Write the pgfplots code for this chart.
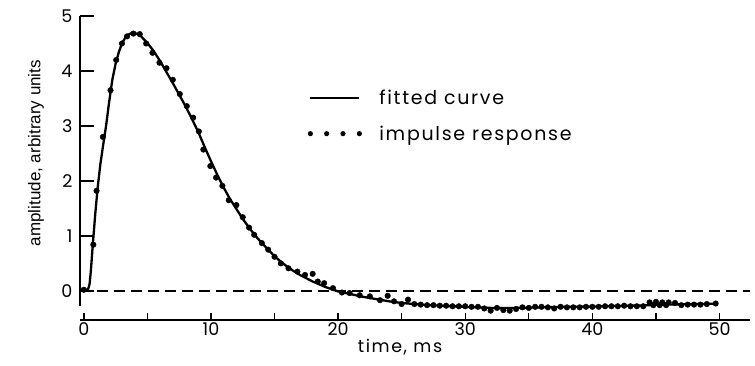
\documentclass[border=0pt]{standalone}
\usepackage{pgfplots}
\pgfplotsset{compat=1.18}
\usepackage{fontspec}
\setmainfont{Liberation Sans}
\newfontfamily\geo{Poppins}
\newfontfamily\geols[LetterSpace=9]{Poppins}

\pgfplotstableread{
t v
0 0
0.2 0.01
0.35 0.04
0.45 0.12
0.55 0.35
0.7 0.82
0.9 1.4
1.1 1.9
1.3 2.3
1.5 2.62
1.75 3.0
2.0 3.45
2.25 3.85
2.5 4.13
2.75 4.34
3.0 4.5
3.25 4.6
3.5 4.66
3.75 4.69
4.0 4.69
4.25 4.67
4.5 4.63
5.0 4.51
5.5 4.36
6.0 4.18
6.5 3.98
7.0 3.78
7.5 3.57
8.0 3.36
8.5 3.13
9.0 2.89
9.5 2.62
10.0 2.36
10.5 2.11
11.0 1.88
11.5 1.67
12.0 1.49
12.5 1.31
13.0 1.15
13.5 1.00
14.0 0.87
14.5 0.75
15.0 0.63
15.5 0.53
16.0 0.44
16.5 0.36
17.0 0.29
17.5 0.23
18.0 0.17
18.5 0.12
19.0 0.07
19.5 0.03
20.0 -0.01
21.0 -0.06
22.0 -0.11
23.0 -0.15
24.0 -0.19
25.0 -0.22
26.0 -0.24
27.0 -0.26
28.0 -0.27
30.0 -0.29
32.0 -0.31
34.0 -0.31
36.0 -0.30
38.0 -0.29
40.0 -0.285
42.0 -0.275
44.0 -0.265
46.0 -0.25
48.0 -0.24
49.7 -0.235
}\fitted

\pgfplotstableread{
t v
0.0 0.02
0.75 0.84
1.0 1.82
1.5 2.8
2.1 3.65
2.55 4.2
3.0 4.5
3.4 4.63
3.9 4.68
4.4 4.67
4.9 4.5
5.4 4.33
5.95 4.15
6.5 4.05
7.0 3.84
7.55 3.58
8.1 3.36
8.6 3.15
9.05 2.9
9.4 2.57
9.95 2.27
10.4 2.06
10.9 1.91
11.4 1.65
12.0 1.56
12.5 1.34
13.0 1.15
13.4 1.02
14.0 0.87
14.5 0.75
15.0 0.62
15.5 0.5
16.1 0.41
16.8 0.35
17.4 0.29
18.0 0.31
18.4 0.17
18.9 0.14
19.6 0.05
20.3 -0.03
20.9 -0.04
21.7 -0.08
22.5 -0.1
23.3 -0.17
23.9 -0.09
24.4 -0.19
25.0 -0.24
25.5 -0.16
26.0 -0.24
26.5 -0.25
27.0 -0.26
27.5 -0.26
28.0 -0.27
28.5 -0.27
29.0 -0.28
29.5 -0.28
30.0 -0.28
30.5 -0.29
31.0 -0.29
31.5 -0.32
32.0 -0.36
32.5 -0.31
33.0 -0.35
33.5 -0.36
34.0 -0.33
34.5 -0.30
35.0 -0.31
35.5 -0.29
36.0 -0.29
36.5 -0.30
37.0 -0.32
37.5 -0.29
38.0 -0.30
38.5 -0.30
39.0 -0.30
39.5 -0.29
40.0 -0.29
40.5 -0.29
41.0 -0.28
41.5 -0.28
42.0 -0.28
42.5 -0.27
43.0 -0.28
43.5 -0.28
44.0 -0.28
44.5 -0.21
44.8 -0.26
45.0 -0.20
45.3 -0.26
45.5 -0.21
45.8 -0.26
46.0 -0.21
46.5 -0.22
47.0 -0.26
47.5 -0.25
48.0 -0.25
48.5 -0.25
49.0 -0.24
49.7 -0.23
}\dots

\begin{document}
\begin{tikzpicture}
\useasboundingbox (-80pt,-46pt) rectangle (675pt,320pt);
\begin{axis}[
  scale only axis, width=670pt, height=304pt,
  xmin=-0.3, xmax=52.4, ymin=-0.53, ymax=5,
  axis line style={draw=none},
  clip=false,
  xtick={0,5,...,50}, xticklabels={0,,10,,20,,30,,40,,50},
  ytick={0,1,2,3,4,5},
  xtick pos=bottom, ytick pos=left, tick align=inside,
  xtick style={line width=1.4pt, black, /pgfplots/major tick length=7pt},
  ytick style={line width=1.4pt, black, /pgfplots/major tick length=14pt},
  /pgf/number format/assume math mode=true,
  tick label style={font=\geo\fontsize{17.5}{20}\selectfont},
  xticklabel style={yshift=1pt},
  yticklabel style={xshift=-4pt},
  xlabel={time, ms}, ylabel={amplitude, arbitrary units},
  xlabel style={font=\geols\fontsize{17.5}{20}\selectfont, at={(axis description cs:0.4776,0)}, anchor=base, yshift=-33pt},
  ylabel style={font=\fontsize{17}{19}\selectfont, at={(axis description cs:-0.0657,0.549)}, anchor=center},
  legend style={draw=none, fill=none, at={(axis cs:17.6,3.7)}, anchor=north west,
    font=\geols\fontsize{19}{22}\selectfont, row sep=16pt, inner sep=0pt,
    cells={anchor=west}},
  legend cell align=left,
]
\draw[line width=1.8pt] (axis cs:-0.3,-0.28) -- (axis cs:-0.3,5);
\draw[line width=1.8pt] (axis cs:-0.3,-0.53) -- (axis cs:52.4,-0.53);
\addplot[black, line width=1.3pt, dash pattern=on 11pt off 6pt, forget plot] coordinates {(-0.3,0) (52.4,0)};
\addplot[black, line width=2.3pt, legend image code/.code={
    \draw[line width=2pt] (0pt,0pt) -- (49pt,0pt);
    \path[draw=none,fill=none] (0pt,-1pt) rectangle (67pt,1pt);}] table[x=t,y=v] {\fitted};
\addlegendentry{fitted curve}
\addplot[only marks, mark=*, mark size=2.8pt, black, legend image code/.code={
    \fill[draw=none] (0pt,0pt) circle (2.6pt);
    \fill[draw=none] (16.3pt,0pt) circle (2.6pt);
    \fill[draw=none] (32.6pt,0pt) circle (2.6pt);
    \fill[draw=none] (49pt,0pt) circle (2.6pt);
    \path[draw=none,fill=none] (0pt,-1pt) rectangle (67pt,1pt);}] table[x=t,y=v] {\dots};
\addlegendentry{impulse response}
\end{axis}
\end{tikzpicture}
\end{document}
